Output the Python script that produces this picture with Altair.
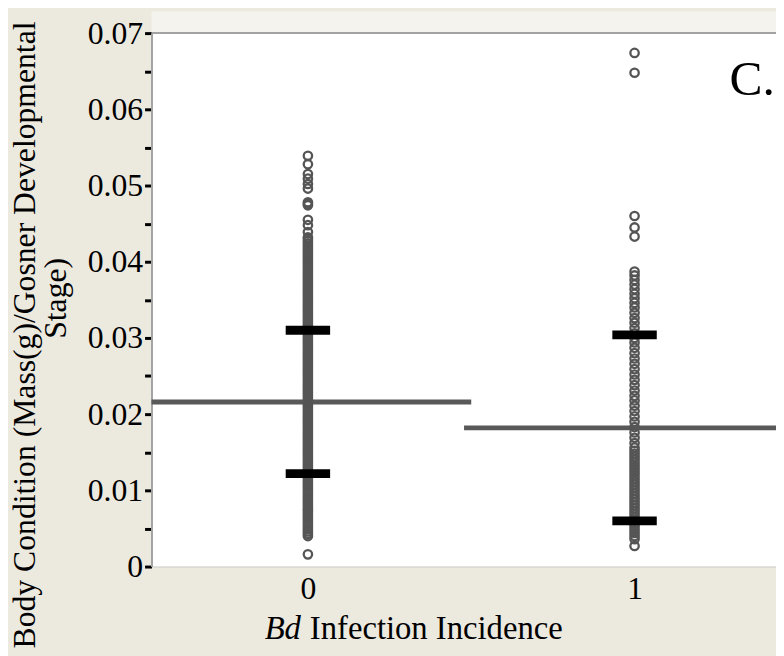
import altair as alt
import pandas as pd

# ---- data ----
group0_values = [
    0.0016,
    0.0040, 0.0043, 0.0046, 0.0049, 0.0052, 0.0055, 0.0058, 0.0061, 0.0064, 0.0067,
    0.0070, 0.0073, 0.0076, 0.0079, 0.0082, 0.0085, 0.0088, 0.0091, 0.0094, 0.0097,
    0.0100, 0.0103, 0.0106, 0.0109, 0.0112, 0.0115, 0.0118, 0.0121, 0.0124, 0.0127,
    0.0130, 0.0133, 0.0136, 0.0139, 0.0142, 0.0145, 0.0148, 0.0151, 0.0154, 0.0157,
    0.0160, 0.0163, 0.0166, 0.0169, 0.0172, 0.0175, 0.0178, 0.0181, 0.0184, 0.0187,
    0.0190, 0.0193, 0.0196, 0.0199, 0.0202, 0.0205, 0.0208, 0.0211, 0.0214, 0.0217,
    0.0220, 0.0223, 0.0226, 0.0229, 0.0232, 0.0235, 0.0238, 0.0241, 0.0244, 0.0247,
    0.0250, 0.0253, 0.0256, 0.0259, 0.0262, 0.0265, 0.0268, 0.0271, 0.0274, 0.0277,
    0.0280, 0.0283, 0.0286, 0.0289, 0.0292, 0.0295, 0.0298, 0.0301, 0.0304, 0.0307,
    0.0310, 0.0313, 0.0316, 0.0319, 0.0322, 0.0325, 0.0328, 0.0331, 0.0334, 0.0337,
    0.0340, 0.0343, 0.0346, 0.0349, 0.0352, 0.0355, 0.0358, 0.0361, 0.0364, 0.0367,
    0.0370, 0.0373, 0.0376, 0.0379, 0.0382, 0.0385, 0.0388, 0.0391, 0.0394, 0.0397,
    0.0400, 0.0403, 0.0406, 0.0409, 0.0412, 0.0415, 0.0418, 0.0421, 0.0424, 0.0427,
    0.0430, 0.0432,
    0.0439, 0.0448, 0.0455, 0.0474, 0.0476, 0.0478,
    0.0496, 0.0502, 0.0509, 0.0515, 0.0528, 0.0539,
]
group1_values = [
    0.0027, 0.0036, 0.0040, 0.0044, 0.0048, 0.0052, 0.0056, 0.0060, 0.0064, 0.0068,
    0.0072, 0.0076, 0.0080, 0.0084, 0.0088, 0.0092, 0.0096, 0.0100, 0.0104, 0.0108,
    0.0112, 0.0116, 0.0120, 0.0124, 0.0128, 0.0132, 0.0136, 0.0140, 0.0144, 0.0148,
    0.0152, 0.0156, 0.0162, 0.0169, 0.0176, 0.0183, 0.0190, 0.0197, 0.0204, 0.0211,
    0.0218, 0.0224, 0.0231, 0.0238, 0.0245, 0.0252, 0.0259, 0.0266, 0.0273, 0.0280,
    0.0287, 0.0294, 0.0300, 0.0306, 0.0313, 0.0320, 0.0326, 0.0333, 0.0340, 0.0346,
    0.0352, 0.0358, 0.0364, 0.0370, 0.0376, 0.0382, 0.0387,
    0.0433, 0.0445, 0.0460,
    0.0648, 0.0674,
]
categories = [0, 1]
group_means = [0.0216, 0.0182]
group_sds = [0.0094, 0.0122]
mean_line_start = [-0.48, 0.478]
mean_line_end = [0.5, 1.5]
sd_half_width = 0.068
y_ticks = [round(i * 0.005, 3) for i in range(15)]

# ---- tables ----
points = pd.DataFrame(
    {"cat": [0] * len(group0_values) + [1] * len(group1_values),
     "val": group0_values + group1_values}
)
means = pd.DataFrame(
    {"x": mean_line_start, "x2": mean_line_end, "mean": group_means}
)
sd_rows = []
for c, m, s in zip(categories, group_means, group_sds):
    for v in (m - s, m + s):
        sd_rows.append({"x": c - sd_half_width, "x2": c + sd_half_width, "y": v})
sds = pd.DataFrame(sd_rows)

W, H = 631, 539
SERIF = "Liberation Serif"
xscale = alt.Scale(domain=[-0.4788, 1.433], nice=False, zero=False)
yscale = alt.Scale(domain=[0, 0.07], nice=False)
xaxis = alt.Axis(values=categories, format="d", ticks=False,
                 labelFont=SERIF, labelFontSize=32, labelColor="black",
                 labelPadding=7, domainColor="#cfcfcf", domainWidth=1,
                 grid=False, labelFlush=False)
yaxis = alt.Axis(values=y_ticks,
                 labelExpr="(round(datum.value*1000) % 10 != 0) ? '' : (datum.value == 0 ? '0' : format(datum.value, '.2f'))",
                 labelFont=SERIF, labelFontSize=32, labelColor="black",
                 labelPadding=2, tickColor="black", tickWidth=3, tickSize=7,
                 domainColor="#a3a3a3", domainWidth=2, grid=False)

band = alt.Chart(pd.DataFrame({"a": [0]})).mark_rect(color="#f4f3ed").encode(
    x=alt.value(0), x2=alt.value(W), y=alt.value(-22), y2=alt.value(-1)
)
top_border = alt.Chart(pd.DataFrame({"a": [0]})).mark_rule(
    color="#a3a3a3", strokeWidth=2
).encode(x=alt.value(0), x2=alt.value(W), y=alt.value(0))

pts = alt.Chart(points).mark_point(
    shape="circle", filled=False, color="#555555", size=72, strokeWidth=2.3, opacity=1
).encode(
    x=alt.X("cat:Q", scale=xscale, title=None, axis=xaxis),
    y=alt.Y("val:Q", scale=yscale, title=None, axis=yaxis),
)

mean_rules = alt.Chart(means).mark_rule(color="#595959", strokeWidth=5, clip=True).encode(
    x=alt.X("x:Q", scale=xscale, title=None, axis=xaxis),
    x2="x2:Q",
    y=alt.Y("mean:Q", scale=yscale, title=None, axis=yaxis),
)
sd_rules = alt.Chart(sds).mark_rule(color="black", strokeWidth=9, strokeCap="butt").encode(
    x=alt.X("x:Q", scale=xscale, title=None, axis=xaxis),
    x2="x2:Q",
    y=alt.Y("y:Q", scale=yscale, title=None, axis=yaxis),
)

def txt(text, x, y, size, align="center", baseline="alphabetic", angle=0, style="normal"):
    kw = dict(text=text, font=SERIF, fontSize=size, align=align, baseline=baseline,
              color="black", fontStyle=style)
    if angle:
        kw["angle"] = angle
    return alt.Chart(pd.DataFrame({"a": [0]})).mark_text(**kw).encode(
        x=alt.value(x), y=alt.value(y)
    )

ytitle1 = txt("Body Condition (Mass(g)/Gosner Developmental", -128, 305, 32,
              baseline="middle", angle=270)
ytitle2 = txt("Stage)", -96, 268, 32, baseline="middle", angle=270)
xtitle_a = txt("Bd", 151, 612, 33, align="right", style="italic")
xtitle_b = txt("Infection Incidence", 160, 612, 33, align="left")
label_c = txt("C.", 584, 63, 50, align="left")

chart = alt.layer(
    band, top_border, mean_rules, pts, sd_rules,
    ytitle1, ytitle2, xtitle_a, xtitle_b, label_c
).properties(
    width=W, height=H,
    autosize=alt.AutoSizeParams(type="none"),
    padding={"left": 145, "top": 22, "right": 0, "bottom": 87},
    background="#ece9df",
).configure_view(stroke=None, fill="white")

chart.save("out.html", embed_options={"renderer": "svg", "actions": False})
